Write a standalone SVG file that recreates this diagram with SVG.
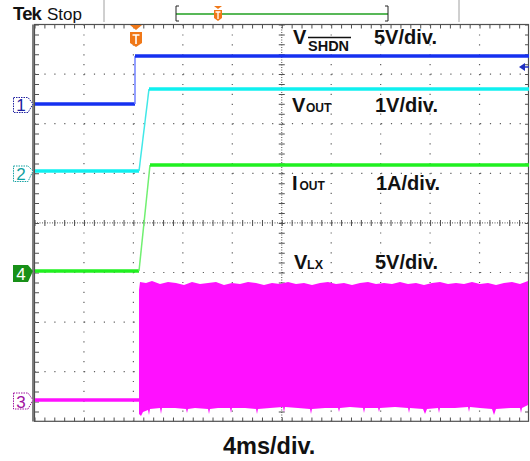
<svg xmlns="http://www.w3.org/2000/svg" width="530" height="461" viewBox="0 0 530 461">
<style>
.lbl{font-family:"Liberation Sans",Arial,sans-serif;font-weight:bold;fill:#111}
.big{font-size:20px}
.sub{font-size:12px}
.grid{stroke:#606060;stroke-width:1.2;stroke-dasharray:1.2 8.7;fill:none}
.tick{stroke:#505050;stroke-width:4;stroke-dasharray:1 8.89;fill:none}
.ctick{stroke:#505050;stroke-width:6;stroke-dasharray:1 8.89;fill:none}
.cdot{stroke:#505050;stroke-width:1;stroke-dasharray:1 1.5;fill:none}
.mk{font-family:"Liberation Sans",Arial,sans-serif;font-size:17px}
.mkb{fill:#fff;stroke-width:1;stroke-dasharray:1.5 1}
</style>
<rect width="530" height="461" fill="#fff"/>
<g id="header">
<text x="13" y="20" class="lbl" style="font-size:18.5px;letter-spacing:-0.8px">Tek</text>
<text x="47" y="20" style="font-family:'Liberation Sans',Arial,sans-serif;font-size:17px;fill:#111">Stop</text>
<line x1="104" y1="0" x2="104" y2="22" stroke="#a0a0a0" stroke-width="1"/>
<line x1="459" y1="0" x2="459" y2="22" stroke="#a0a0a0" stroke-width="1"/>
<line x1="176" y1="14" x2="388" y2="14" stroke="#20a020" stroke-width="1.5"/>
<path d="M179,6 H176 V21 H179 M385,6 H388 V21 H385" fill="none" stroke="#222" stroke-width="1"/>
<path d="M214,6 H222 L218,9 Z" fill="#f07818"/>
<path d="M214,10 H222 V18 L218,21 L214,18 Z" fill="#f07818"/>
<path d="M215.5,12 H220.5 M218,12 V19" stroke="#fff" stroke-width="1.3"/>
</g>
<g id="graticule">
<rect x="32" y="24.5" width="3" height="397" fill="#808080"/>
<rect x="34.5" y="24.5" width="494" height="396.8" fill="none" stroke="#505050" stroke-width="1.2"/>
<line x1="34.5" y1="26.5" x2="529" y2="26.5" class="tick"/>
<line x1="34.5" y1="419.5" x2="529" y2="419.5" class="tick"/>
<line x1="37" y1="24.5" x2="37" y2="421.3" class="tick" style="stroke-dasharray:1 8.92"/>
<line x1="527" y1="24.5" x2="527" y2="421.3" class="tick" style="stroke-dasharray:1 8.92"/>
<g class="grid">
<line x1="83.95" y1="24.5" x2="83.95" y2="421.3"/>
<line x1="133.4" y1="24.5" x2="133.4" y2="421.3"/>
<line x1="182.85" y1="24.5" x2="182.85" y2="421.3"/>
<line x1="232.3" y1="24.5" x2="232.3" y2="421.3"/>
<line x1="331.2" y1="24.5" x2="331.2" y2="421.3"/>
<line x1="380.65" y1="24.5" x2="380.65" y2="421.3"/>
<line x1="430.1" y1="24.5" x2="430.1" y2="421.3"/>
<line x1="479.55" y1="24.5" x2="479.55" y2="421.3"/>
<line x1="34.5" y1="74.1" x2="529" y2="74.1"/>
<line x1="34.5" y1="123.7" x2="529" y2="123.7"/>
<line x1="34.5" y1="173.3" x2="529" y2="173.3"/>
<line x1="34.5" y1="272.5" x2="529" y2="272.5"/>
<line x1="34.5" y1="322.1" x2="529" y2="322.1"/>
<line x1="34.5" y1="371.7" x2="529" y2="371.7"/>
</g>
<line x1="34.5" y1="222.9" x2="529" y2="222.9" class="cdot"/>
<line x1="34.5" y1="222.9" x2="529" y2="222.9" class="ctick"/>
<line x1="281.75" y1="24.5" x2="281.75" y2="421.3" class="cdot"/>
<line x1="281.75" y1="24.5" x2="281.75" y2="421.3" class="ctick" style="stroke-dasharray:1 8.92"/>
</g>
<g id="ch3-trace">
<path d="M35,400 H140" stroke="#ff10ff" stroke-width="3.5" fill="none"/>
<polygon fill="#ff10ff" points="139,290 140,282 146,283 152,281 160,284 168,282 176,283 184,285 192,282 200,284 208,283 216,282 224,285 232,283 240,284 248,282 256,283 264,285 272,283 280,284 288,282 296,284 304,283 312,285 320,283 328,282 336,284 344,283 352,285 360,283 368,282 376,284 384,283 392,284 400,282 408,284 416,283 424,285 432,283 440,282 448,284 456,283 464,284 472,282 480,284 488,283 496,285 504,283 512,282 520,284 528,281 528,405 522,408 521,413 520,408 510,408 496,409 494,415 492,409 480,408 470,407 469,412 468,407 455,408 440,408 439,413 438,408 427,409 425,414 423,409 410,408 409,413 408,408 395,407 380,408 379,412 378,408 365,408 364,413 363,408 350,407 340,408 339,412 338,408 325,408 312,409 311,414 310,409 298,408 285,407 284,412 283,407 270,408 258,409 257,414 256,409 245,408 232,408 231,413 230,408 218,408 210,409 209,414 208,409 195,408 188,409 187,413 186,409 175,408 162,408 161,414 160,408 150,409 149,415 148,410 143,412 141,416 139,414"/>
</g>
<g id="ch1-trace">
<path d="M35,104 H135" stroke="#1530f0" stroke-width="3.5" fill="none"/>
<path d="M135,104 V56" stroke="#7080ff" stroke-width="1.5" fill="none"/>
<path d="M135,56 H529" stroke="#1530f0" stroke-width="3.5" fill="none"/>
</g>
<g id="ch2-trace">
<path d="M35,171 H139" stroke="#10f0f0" stroke-width="3.5" fill="none"/>
<path d="M139,171 L149,89" stroke="#40e8e8" stroke-width="1.5" fill="none"/>
<path d="M149,89 H529" stroke="#10f0f0" stroke-width="3.5" fill="none"/>
</g>
<g id="ch4-trace">
<path d="M35,271 H139" stroke="#20f020" stroke-width="3.5" fill="none"/>
<path d="M139,271 L150,165" stroke="#70f070" stroke-width="1.5" fill="none"/>
<path d="M150,165 H529" stroke="#20f020" stroke-width="3.5" fill="none"/>
</g>
<g id="trigger-marker">
<path d="M130,25 H142 L136,30 Z" fill="#f07818"/>
<path d="M130,32 H142 V43 L136,47 L130,43 Z" fill="#f07818"/>
<path d="M132.5,35 H139.5 M136,35 V44" stroke="#fff" stroke-width="1.6"/>
</g>
<g id="level-arrow">
<path d="M519,67 L525,63 V71 Z" fill="#2030c0"/>
<line x1="524" y1="67" x2="529" y2="67" stroke="#2030c0" stroke-width="1.5"/>
</g>
<g id="marker-1">
<path d="M13.5,97.5 H28 L33,104 L28,112.5 H13.5 Z" class="mkb" stroke="#2020a0"/>
<text x="21" y="111" class="mk" fill="#2020a0" text-anchor="middle">1</text>
</g>
<g id="marker-2">
<path d="M13.5,166 H28 L33,171 L28,181.5 H13.5 Z" class="mkb" stroke="#10a0a0"/>
<text x="21" y="180" class="mk" fill="#10a0a0" text-anchor="middle">2</text>
</g>
<g id="marker-4">
<path d="M13,265 H28 L33,271 L28,282 H13 Z" fill="#189018"/>
<text x="21" y="280" class="mk" fill="#fff" text-anchor="middle">4</text>
</g>
<g id="marker-3">
<path d="M13.5,393 H28 L33,400 L28,409 H13.5 Z" class="mkb" stroke="#a010a0"/>
<text x="21" y="407.5" class="mk" fill="#a010a0" text-anchor="middle">3</text>
</g>
<g id="label-vshdn">
<text x="293" y="44" class="lbl big">V</text>
<text x="308" y="51" class="lbl" style="font-size:14.5px">SHDN</text>
<line x1="308" y1="37.5" x2="351" y2="37.5" stroke="#111" stroke-width="1.5"/>
<text x="374" y="44" class="lbl big">5V/div.</text>
</g>
<g id="label-vout">
<text x="292" y="112" class="lbl big">V</text>
<text x="306" y="112" class="lbl sub">OUT</text>
<text x="375" y="112" class="lbl big">1V/div.</text>
</g>
<g id="label-iout">
<text x="292" y="190" class="lbl big">I</text>
<text x="299.5" y="190" class="lbl sub">OUT</text>
<text x="376" y="190" class="lbl big">1A/div.</text>
</g>
<g id="label-vlx">
<text x="294" y="269" class="lbl big">V</text>
<text x="307" y="269" class="lbl" style="font-size:12.5px">LX</text>
<text x="375" y="269" class="lbl big">5V/div.</text>
</g>
<g id="label-time">
<text x="223" y="454" class="lbl" style="font-size:23.5px">4ms/div.</text>
</g>
</svg>
